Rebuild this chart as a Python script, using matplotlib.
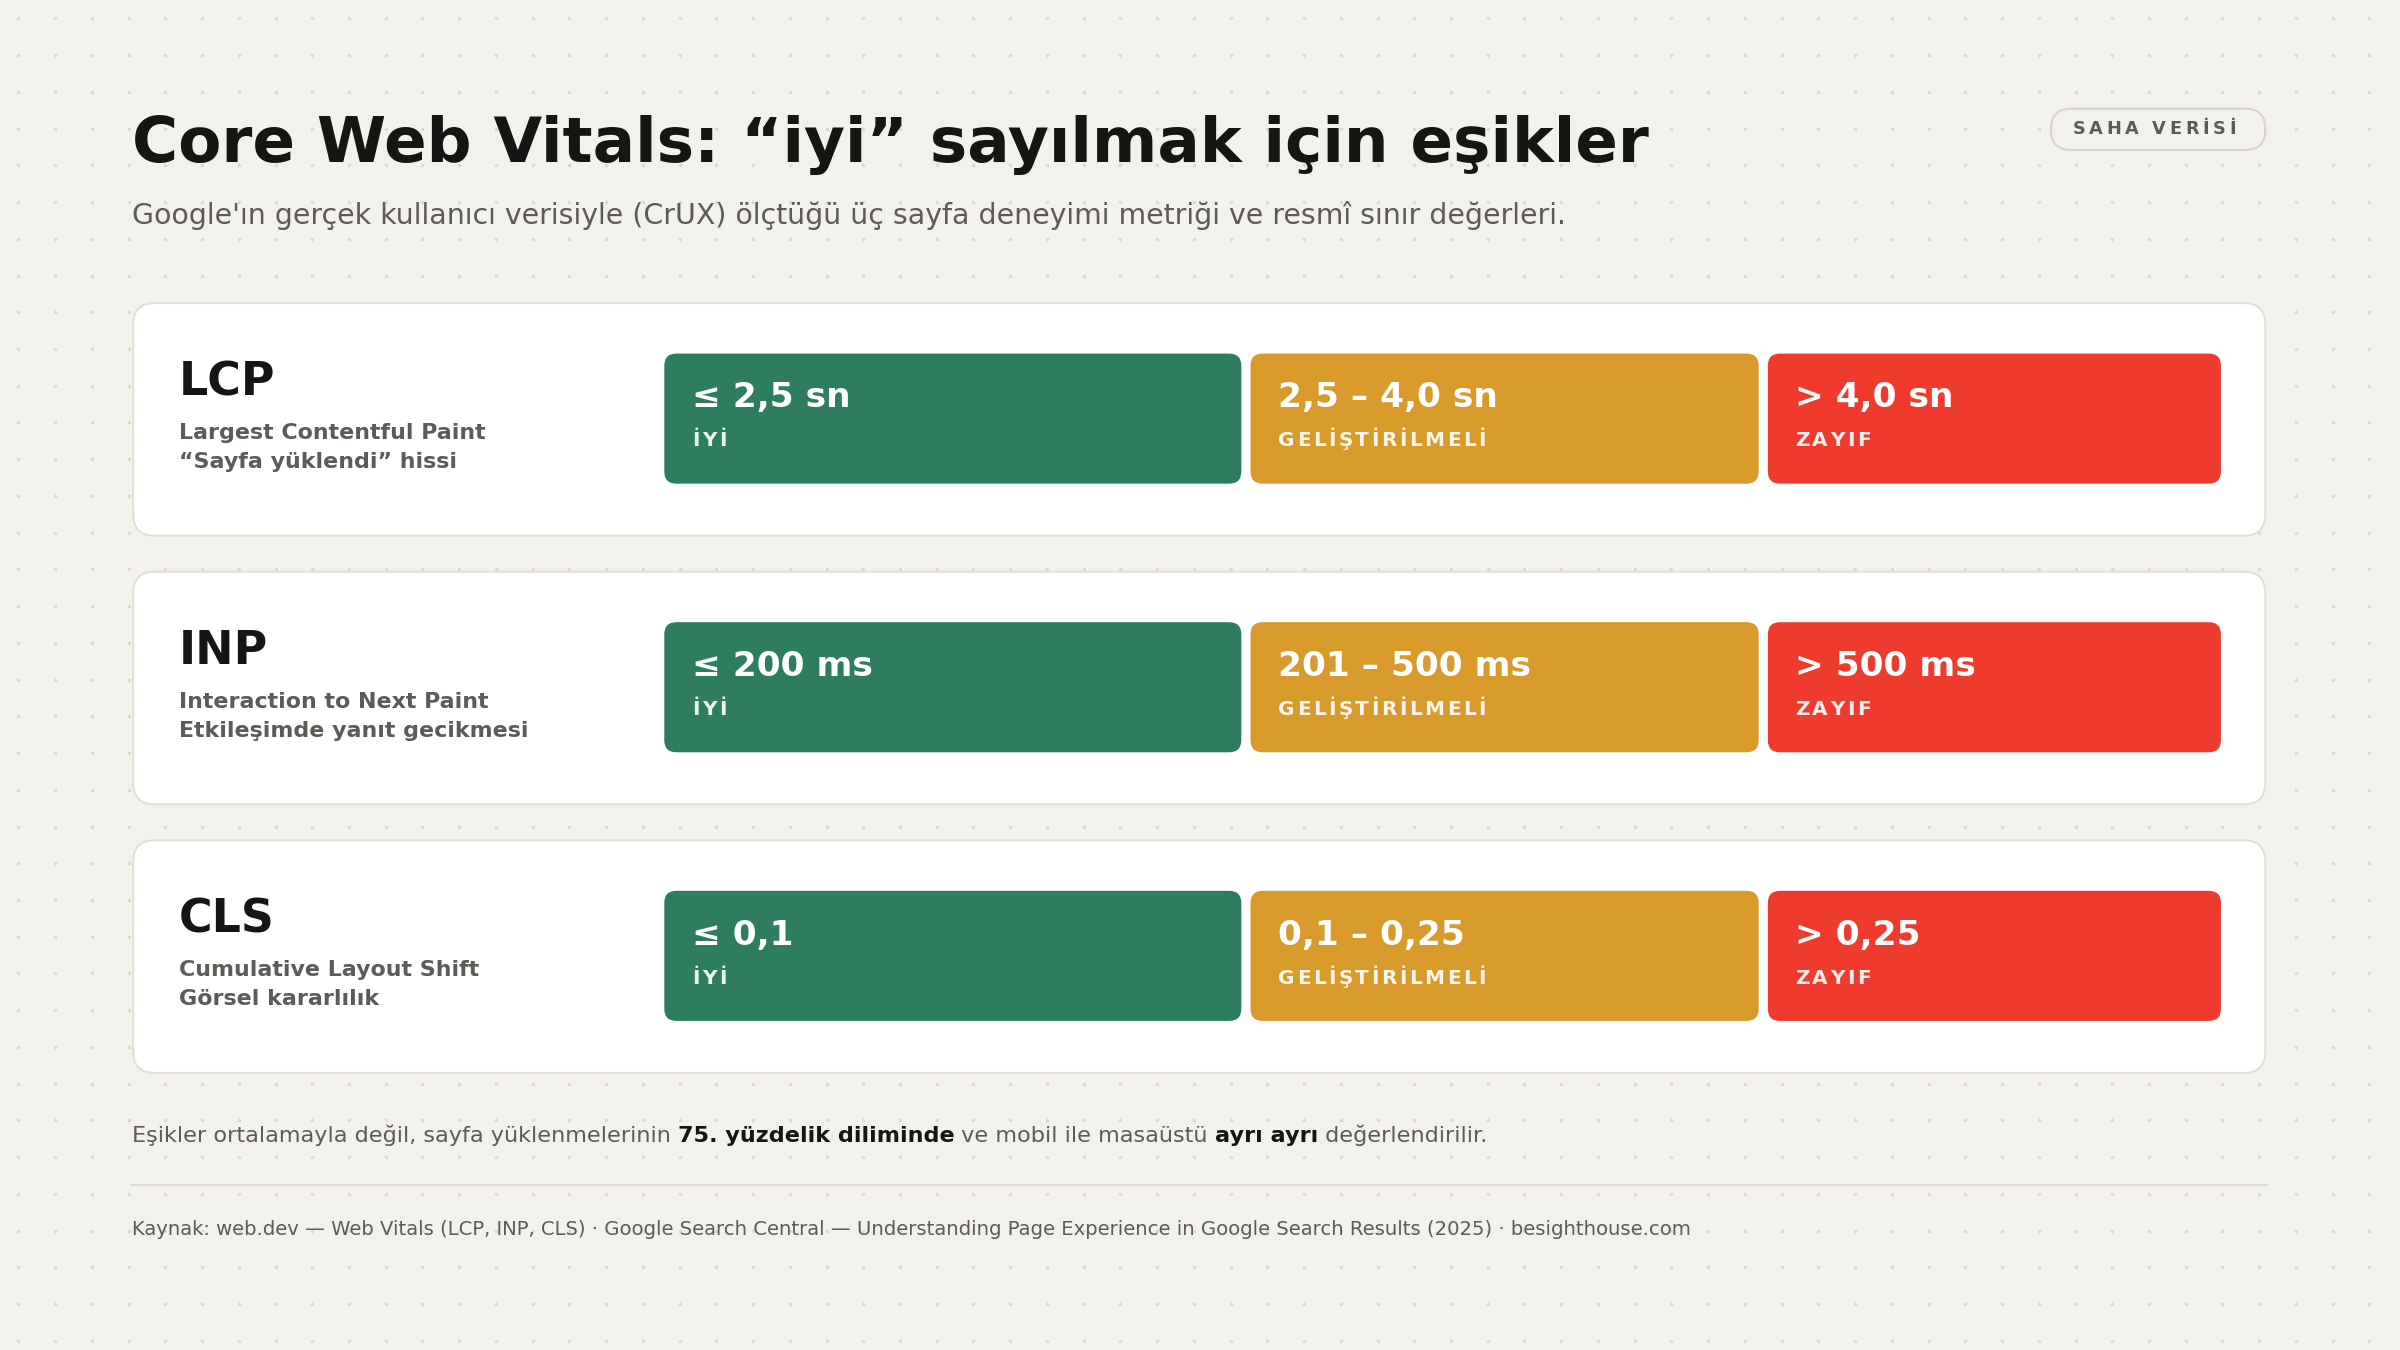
import matplotlib.pyplot as plt
from matplotlib.patches import FancyBboxPatch
import numpy as np

plt.rcParams['font.family'] = ['DejaVu Sans']

metrics = ["LCP", "INP", "CLS"]
names = ["Largest Contentful Paint", "Interaction to Next Paint", "Cumulative Layout Shift"]
notes = ["“Sayfa yüklendi” hissi", "Etkileşimde yanıt gecikmesi", "Görsel kararlılık"]
good = ["≤ 2,5 sn", "≤ 200 ms", "≤ 0,1"]
needs = ["2,5 – 4,0 sn", "201 – 500 ms", "0,1 – 0,25"]
poor = ["> 4,0 sn", "> 500 ms", "> 0,25"]
status = ["İYİ", "GELİŞTİRİLMELİ", "ZAYIF"]
colors = ["#2E7D5F", "#D89A2A", "#EE3B2E"]

W, H = 1568, 882
fig = plt.figure(figsize=(16, 9), dpi=150)
fig.patch.set_facecolor("#F3F1EC")
ax = fig.add_axes([0, 0, 1, 1])
ax.set_xlim(0, W)
ax.set_ylim(H, 0)
ax.axis("off")
fig.canvas.draw()
rend = fig.canvas.get_renderer()
px = W / fig.bbox.width  # data units per display pixel


def tracked_text(x, y, s, track, **kw):
    """Draw text char by char with extra letter spacing (in data units)."""
    for ch in s:
        t = ax.text(x, y, ch, **kw)
        x += t.get_window_extent(renderer=rend).width * px + track
    return x


# faint dot texture
gx, gy = np.meshgrid(np.arange(12, W, 24), np.arange(12, H, 24))
ax.scatter(gx.ravel(), gy.ravel(), s=0.4, color="#DCD8D0", zorder=0)

ax.text(86, 95, "Core Web Vitals: “iyi” sayılmak için eşikler", fontsize=30.2,
        fontweight="bold", color="#161513", va="center")
ax.text(86, 141, "Google'ın gerçek kullanıcı verisiyle (CrUX) ölçtüğü üç sayfa deneyimi metriği ve resmî sınır değerleri.",
        fontsize=13.6, color="#5E5A55", va="center")

ax.add_patch(FancyBboxPatch((1340, 71), 140, 27, boxstyle="round,pad=0,rounding_size=13",
                            fc="#F3F1EC", ec="#D8D3CA", lw=1))
tracked_text(1354, 84.5, "SAHA VERİSİ", 2.4, fontsize=8.5, fontweight="bold",
             color="#5E5A55", va="center")

segs = [(434, 811), (817, 1149), (1155, 1451)]
for i in range(len(metrics)):
    top = 198 + i * 175.5
    ax.add_patch(FancyBboxPatch((87, top), 1393, 152, boxstyle="round,pad=0,rounding_size=14",
                                fc="white", ec="#E3DFD8", lw=1))
    ax.text(117, top + 52, metrics[i], fontsize=22, fontweight="bold", color="#161513", va="center")
    ax.text(117, top + 85, names[i], fontsize=10.6, fontweight="bold", color="#5E5A55", va="center")
    ax.text(117, top + 104, notes[i], fontsize=10.6, fontweight="bold", color="#5E5A55", va="center")
    vals = [good[i], needs[i], poor[i]]
    for j, (x0, x1) in enumerate(segs):
        ax.add_patch(FancyBboxPatch((x0, top + 33), x1 - x0, 85, boxstyle="round,pad=0,rounding_size=8",
                                    fc=colors[j], ec="none"))
        ax.text(x0 + 18, top + 62, vals[j], fontsize=16.5, fontweight="bold", color="white", va="center")
        tracked_text(x0 + 18, top + 90, status[j], 1.6, fontsize=9.6,
                     fontweight="bold", color="white", va="center", alpha=0.92)

# footnote with bold fragments
parts = [("Eşikler ortalamayla değil, sayfa yüklenmelerinin ", "normal"),
         ("75. yüzdelik diliminde", "bold"),
         (" ve mobil ile masaüstü ", "normal"),
         ("ayrı ayrı", "bold"),
         (" değerlendirilir.", "normal")]
x = 86
for txt, wgt in parts:
    t = ax.text(x, 742, txt, fontsize=10.75, fontweight=wgt,
                color="#161513" if wgt == "bold" else "#5E5A55", va="center")
    x += t.get_window_extent(renderer=rend).width * px

ax.plot([86, 1481], [774, 774], color="#DEDAD3", lw=1)
ax.text(86, 803, "Kaynak: web.dev — Web Vitals (LCP, INP, CLS) · Google Search Central — Understanding Page Experience in Google Search Results (2025) · besighthouse.com",
        fontsize=9.4, color="#5E5A55", va="center")

fig.savefig("out.png", dpi=150, facecolor=fig.get_facecolor())
